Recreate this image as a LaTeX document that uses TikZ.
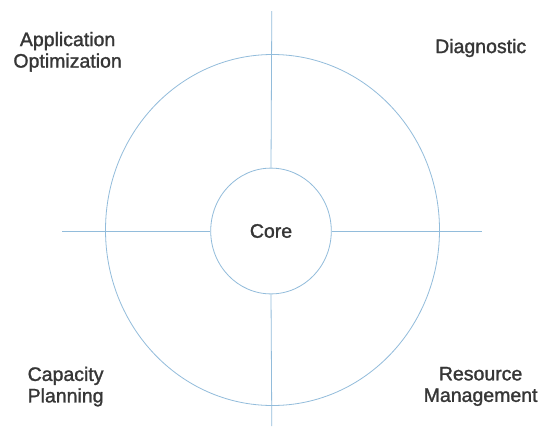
\documentclass[tikz,border=0pt]{standalone}
\usepackage{fontspec}
\setmainfont{Liberation Sans}
\newfontfamily\areafont[FakeBold=1.4]{Liberation Sans}
\usepackage{tikz}
\usetikzlibrary{shapes.geometric}
\definecolor{ringblue}{HTML}{92BCDB}
\definecolor{labelgray}{HTML}{363636}

\begin{document}
\begin{tikzpicture}[x=1pt,y=-1pt,
  ring/.style={draw=ringblue,line width=0.8pt,ellipse,inner sep=0pt},
  areatext/.style={align=center,text=labelgray,font=\areafont\fontsize{19.5}{21.5}\selectfont}]
\useasboundingbox[fill=white] (0,0) rectangle (545,426);
\node[ring,minimum width=334pt,minimum height=351pt] (outer) at (272.5,230) {};
\node[ring,fill=white,minimum width=120.6pt,minimum height=125.8pt,areatext] (core) at (271,231) {Core};
\coordinate (top) at (271.8,11);
\coordinate (bottom) at (271.8,426);
\coordinate (left) at (62,231);
\coordinate (right) at (482.4,231);
\draw[ringblue,line width=0.8pt] (top)--(core.north);
\draw[ringblue,line width=0.8pt] (core.south)--(bottom);
\draw[ringblue,line width=0.8pt] (left)--(core.west);
\draw[ringblue,line width=0.8pt] (core.east)--(right);
\node[areatext] (app) at (67.6,51.8) {Application\\Optimization};
\node[areatext] (diag) at (480.7,48) {Diagnostic};
\node[areatext] (cap) at (65.6,386.6) {Capacity\\Planning};
\node[areatext] (res) at (480.6,386.4) {Resource\\Management};
\end{tikzpicture}
\end{document}
